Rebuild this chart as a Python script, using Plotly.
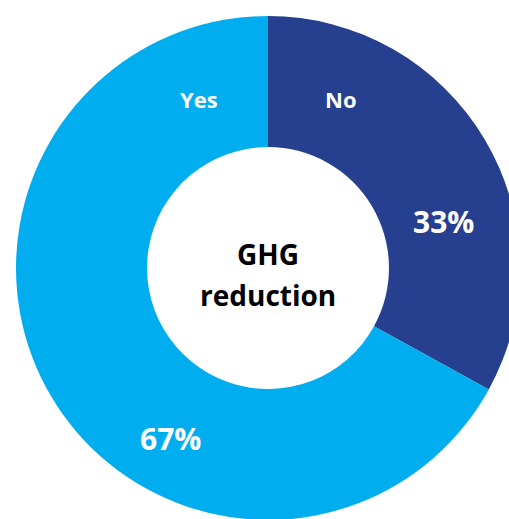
import plotly.graph_objects as go

labels = ["No", "Yes"]
values = [33, 67]
colors = ["#263F8E", "#00AEEF"]
center_text = ["GHG", "reduction"]

W, H, M = 536, 536, 16
FONT = "Open Sans"


def px(x, y):
    # pixel position -> paper coords
    return (x - M) / (W - 2 * M), 1 - (y - M) / (H - 2 * M)


fig = go.Figure(go.Pie(
    labels=labels,
    values=values,
    hole=0.48,
    sort=False,
    direction="clockwise",
    rotation=0,
    marker=dict(colors=colors, line=dict(width=0)),
    textinfo="none",
    hoverinfo="skip",
    showlegend=False,
))

annots = [
    (labels[1], 199, 99, 22, "white"),
    (labels[0], 341, 99, 22, "white"),
    (f"{values[0]}%", 443, 221, 30, "white"),
    (f"{values[1]}%", 170, 438, 30, "white"),
    (center_text[0], 268, 254, 28, "black"),
    (center_text[1], 268, 295, 28, "black"),
]
for text, x, y, size, color in annots:
    ax, ay = px(x, y)
    fig.add_annotation(
        text=f"<b>{text}</b>", x=ax, y=ay, xref="paper", yref="paper",
        showarrow=False, xanchor="center", yanchor="middle",
        font=dict(family=FONT, size=size, color=color),
    )

fig.update_layout(
    width=W, height=H,
    margin=dict(l=M, r=M, t=M, b=M),
    paper_bgcolor="white",
    plot_bgcolor="white",
)

fig.write_html(
    "out.html",
    config={"displayModeBar": False},
    post_script="document.body.style.margin='0';document.body.style.overflow='hidden';",
)
